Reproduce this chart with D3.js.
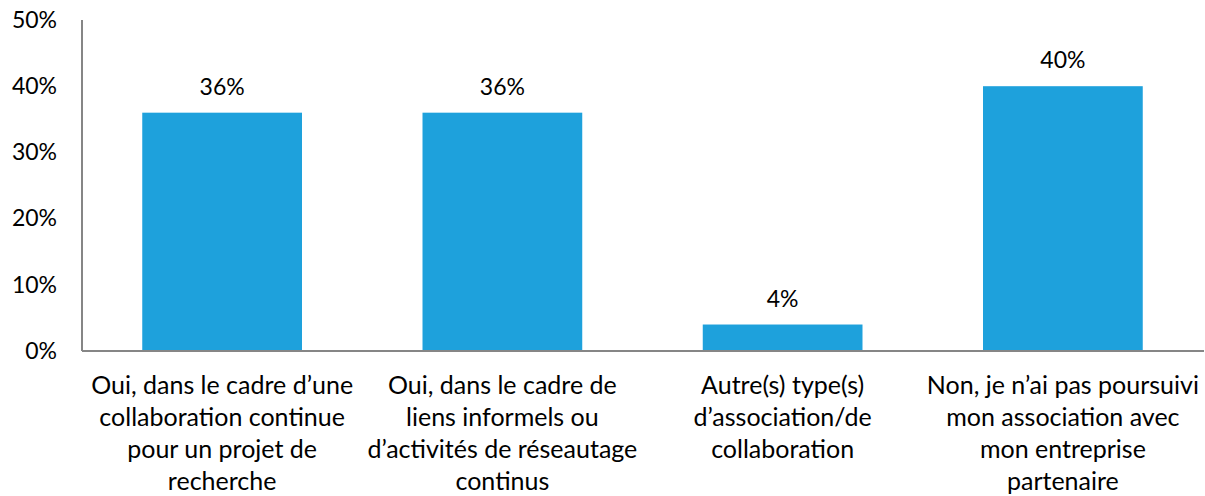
<!DOCTYPE html>
<html lang="fr">
<head>
<meta charset="utf-8">
<title>Bar chart</title>
<style>
body { margin: 0; background: #fff; }
svg text { font-family: Lato, "Open Sans", sans-serif; fill: #000; }
.axis path { stroke: #868686; stroke-width: 2; }
.axis line { display: none; }
.bar { fill: #1EA1DC; }
</style>
</head>
<body>
<script src="https://d3js.org/d3.v7.min.js"></script>
<script>
var categories = [
  ["Oui, dans le cadre d\u2019une", "collaboration continue", "pour un projet de", "recherche"],
  ["Oui, dans le cadre de", "liens informels ou", "d\u2019activit\u00e9s de r\u00e9seautage", "continus"],
  ["Autre(s) type(s)", "d\u2019association/de", "collaboration"],
  ["Non, je n\u2019ai pas poursuivi", "mon association avec", "mon entreprise", "partenaire"]
];
var values = [36, 36, 4, 40];
var yTicks = [0, 10, 20, 30, 40, 50];

var svg = d3.select("body").append("svg").attr("width", 1205).attr("height", 496);
var margin = { top: 20, right: 2, bottom: 145, left: 82 };
var width = 1205 - margin.left - margin.right;
var height = 496 - margin.top - margin.bottom;

var g = svg.append("g").attr("transform", "translate(" + margin.left + "," + margin.top + ")");

var idx = categories.map(function(d, i) { return i; });
var x = d3.scaleBand().domain(idx).range([0, width]).paddingInner(0.43).paddingOuter(0.215);
var y = d3.scaleLinear().domain([0, 50]).range([height, 0]);

// y axis
var ya = g.append("g").attr("class", "axis")
  .call(d3.axisLeft(y).tickValues(yTicks).tickSize(0).tickPadding(25).tickFormat(function(d) { return d + "%"; }));
ya.select(".domain").attr("d", "M0," + height + "V0");
ya.selectAll("text").style("font-size", "23px");

// bars
g.selectAll(".bar").data(values).enter().append("rect")
  .attr("class", "bar")
  .attr("x", function(d, i) { return x(i); })
  .attr("y", function(d) { return y(d); })
  .attr("width", x.bandwidth())
  .attr("height", function(d) { return height - y(d); });

// value labels
g.selectAll(".val").data(values).enter().append("text")
  .attr("x", function(d, i) { return x(i) + x.bandwidth() / 2; })
  .attr("y", function(d) { return y(d) - 18; })
  .attr("text-anchor", "middle")
  .style("font-size", "23px")
  .text(function(d) { return d + "%"; });

// x axis
var xa = g.append("g").attr("class", "axis").attr("transform", "translate(0," + height + ")")
  .call(d3.axisBottom(x).tickSize(0).tickFormat(""));
xa.select(".domain").attr("d", "M0,0H" + (width + 1));

var lab = g.selectAll(".cat").data(categories).enter().append("text")
  .attr("text-anchor", "middle")
  .attr("transform", function(d, i) { return "translate(" + (x(i) + x.bandwidth() / 2) + "," + (height + 43) + ")"; })
  .style("font-size", "25px");
lab.selectAll("tspan").data(function(d) { return d; }).enter().append("tspan")
  .attr("x", 0)
  .attr("y", function(d, j) { return j * 32; })
  .text(function(d) { return d; });
</script>
</body>
</html>
